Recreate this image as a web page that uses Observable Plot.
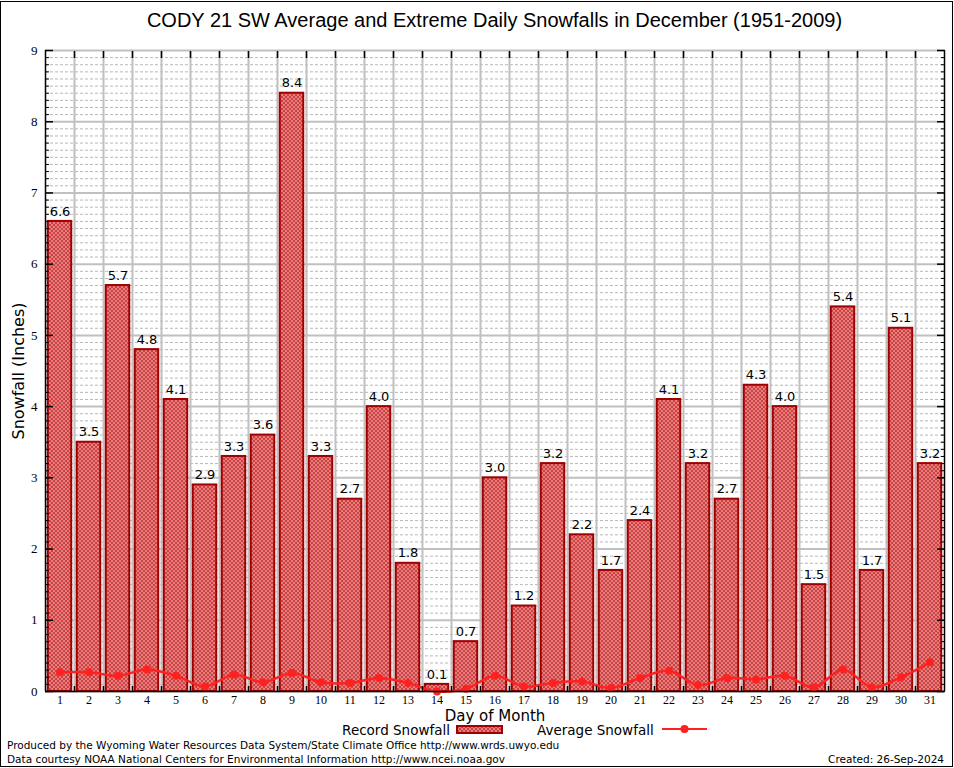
<!DOCTYPE html>
<html><head><meta charset="utf-8">
<script src="https://cdn.jsdelivr.net/npm/d3@7"></script>
<script src="https://cdn.jsdelivr.net/npm/@observablehq/plot@0.6"></script>
<style>
body{margin:0;background:#fff;}
#wrap{position:relative;width:954px;height:768px;overflow:hidden;background:#fff;font-family:"DejaVu Sans",sans-serif;color:#000;}
#frame{position:absolute;left:0;top:1px;width:951px;height:764px;border:1px solid #000;}
#title{position:absolute;left:45px;width:899px;top:9px;height:22px;line-height:22px;text-align:center;font-family:"Liberation Sans",Arial,sans-serif;font-size:20px;}
#chart{position:absolute;left:0;top:38px;}
.t{position:absolute;height:16px;line-height:16px;white-space:nowrap;}
</style></head><body>
<div id="wrap">
<div id="frame"></div>
<div id="title">CODY 21 SW Average and Extreme Daily Snowfalls in December (1951-2009)</div>
<div id="chart"></div>
<div class="t" id="legRec" style="right:504px;top:722px;font-size:13.5px;">Record Snowfall</div>
<svg style="position:absolute;left:456px;top:724px" width="47" height="11">
 <rect x="1" y="2" width="45" height="7" fill="url(#hatch)" stroke="#a00000" stroke-width="2"/>
</svg>
<div class="t" id="legAvg" style="left:537px;top:722px;font-size:13.5px;">Average Snowfall</div>
<svg style="position:absolute;left:660px;top:723px" width="50" height="12">
 <line x1="2" y1="6" x2="47" y2="6" stroke="#ff2020" stroke-width="2"/>
 <circle cx="24.5" cy="6" r="4" fill="#ff2020"/>
</svg>
<div class="t" style="left:7px;top:737px;font-size:10.5px;">Produced by the Wyoming Water Resources Data System/State Climate Office http://www.wrds.uwyo.edu</div>
<div class="t" style="left:7px;top:751px;font-size:10.5px;">Data courtesy NOAA National Centers for Environmental Information http://www.ncei.noaa.gov</div>
<div class="t" style="right:10px;top:751px;font-size:10.5px;">Created: 26-Sep-2024</div>
</div>
<script>
const days = [1,2,3,4,5,6,7,8,9,10,11,12,13,14,15,16,17,18,19,20,21,22,23,24,25,26,27,28,29,30,31];
const recordSnow = [6.6,3.5,5.7,4.8,4.1,2.9,3.3,3.6,8.4,3.3,2.7,4.0,1.8,0.1,0.7,3.0,1.2,3.2,2.2,1.7,2.4,4.1,3.2,2.7,4.3,4.0,1.5,5.4,1.7,5.1,3.2];
const avgSnow = [0.27,0.27,0.22,0.31,0.22,0.07,0.24,0.13,0.26,0.13,0.12,0.19,0.12,0.0,0.04,0.22,0.07,0.12,0.14,0.05,0.19,0.29,0.09,0.19,0.17,0.22,0.06,0.31,0.06,0.20,0.41];
const yMajor = [0,1,2,3,4,5,6,7,8,9];
const yMinor = d3.range(1, 90).filter(i => i % 10 !== 0).map(i => i / 10);
const dayBounds = days.slice(0, -1).map(d => d + 0.5);

const data = days.map((d, i) => ({day: d, record: recordSnow[i], avg: avgSnow[i]}));
const grid = "#c0c0c0";
const barHalf = 0.405;

const chart = Plot.plot({
  width: 954,
  height: 684,
  marginLeft: 45,
  marginRight: 10,
  marginTop: 12,
  marginBottom: 31,
  style: {background: "transparent", fontFamily: "DejaVu Sans", overflow: "visible"},
  x: {domain: [0.5, 31.5], label: null, axis: null},
  y: {domain: [0, 9], label: null, axis: null},
  marks: [
    Plot.ruleY(yMinor, {stroke: "#b8b8b8", strokeWidth: 1, strokeDasharray: "3,2"}),
    Plot.ruleY(yMajor, {stroke: grid, strokeWidth: 2}),
    Plot.ruleX(dayBounds, {stroke: grid, strokeWidth: 2}),
    Plot.rectY(data, {x1: d => d.day - barHalf, x2: d => d.day + barHalf, y: "record", fill: "url(#hatch)", stroke: "#a00000", strokeWidth: 2}),
    Plot.text(data, {x: "day", y: "record", text: d => d.record.toFixed(1), dy: -10, fontSize: 13, fontFamily: "DejaVu Sans", fill: "#000"}),
    Plot.line(data, {x: "day", y: "avg", stroke: "#ff2020", strokeWidth: 2.5, curve: "catmull-rom"}),
    Plot.dot(data, {x: "day", y: "avg", r: 4, fill: "#ff2020", stroke: "none"}),
    Plot.ruleX([0.5, 31.5], {stroke: "#000", strokeWidth: 1.5}),
    Plot.ruleY([0], {stroke: "#000", strokeWidth: 1.5}),
    Plot.axisY(yMajor, {anchor: "left", tickSize: -8, tickFormat: () => "", label: null, strokeWidth: 1.5}),
    Plot.axisY(yMinor, {anchor: "left", tickSize: -4, tickFormat: () => "", label: null}),
    Plot.axisY(yMajor, {anchor: "right", tickSize: -8, tickFormat: () => "", label: null, strokeWidth: 1.5}),
    Plot.axisY(yMinor, {anchor: "right", tickSize: -4, tickFormat: () => "", label: null}),
    Plot.axisX(dayBounds, {anchor: "top", tickSize: -7, tickFormat: () => "", label: null, strokeWidth: 1.5}),
    Plot.axisX(dayBounds, {anchor: "bottom", tickSize: -5, tickFormat: () => "", label: null, strokeWidth: 1.5}),
    Plot.axisY(yMajor, {anchor: "left", tickSize: 0, tickPadding: 8, label: null, fontSize: 13, fontFamily: "Liberation Serif", tickFormat: d => String(d)}),
    Plot.axisX(days, {anchor: "bottom", tickSize: 0, tickPadding: 4, label: null, fontSize: 12, fontFamily: "Liberation Serif", tickFormat: d => String(d)}),
    Plot.text(["Day of Month"], {frameAnchor: "bottom", dy: 29, fontSize: 15, fontFamily: "DejaVu Sans", fill: "#000"}),
    Plot.text(["Snowfall (Inches)"], {frameAnchor: "left", textAnchor: "middle", dx: -27, rotate: -90, fontSize: 16, fontFamily: "DejaVu Sans", fill: "#000"})
  ]
});

const ns = "http://www.w3.org/2000/svg";
const defs = document.createElementNS(ns, "defs");
const red = "#c00000";
const cells = ["1011", "0101", "1110", "0101"];
let pat = '<pattern id="hatch" x="0.5" y="0.5" width="4" height="4" patternUnits="userSpaceOnUse"><rect width="4" height="4" fill="#fff" shape-rendering="crispEdges"/>';
cells.forEach((row, r) => row.split("").forEach((c, k) => { if (c === "1") pat += `<rect x="${k}" y="${r}" width="1" height="1" fill="${red}" shape-rendering="crispEdges"/>`; }));
pat += '</pattern>';
defs.innerHTML = pat;
chart.insertBefore(defs, chart.firstChild);
document.getElementById("chart").appendChild(chart);
</script>
</body></html>
